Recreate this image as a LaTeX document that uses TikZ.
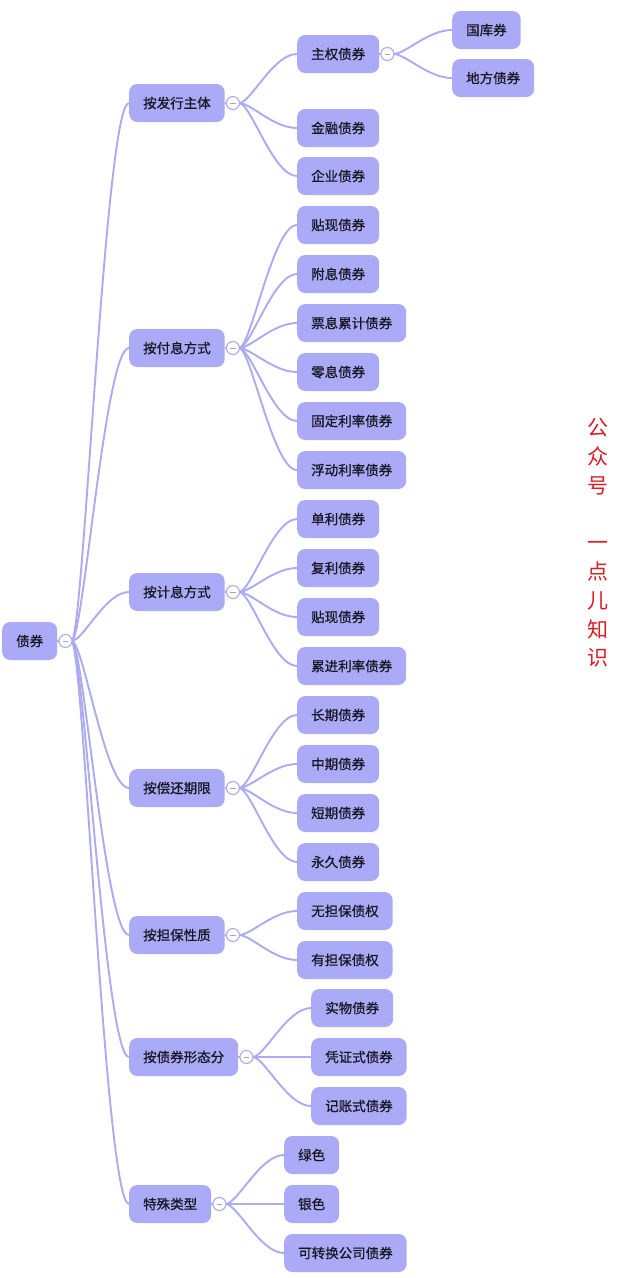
\documentclass[tikz,border=0pt]{standalone}
\usepackage{fontspec}
\setmainfont{Noto Sans CJK SC}
\newfontfamily\cjkfont{Noto Sans CJK SC}
\newfontfamily\boxfont[FakeBold=0.8]{Noto Sans CJK SC}
\usetikzlibrary{positioning}
\definecolor{boxfill}{RGB}{171,170,246}
\definecolor{linec}{RGB}{172,170,240}
\definecolor{txt}{RGB}{24,24,36}
\definecolor{wred}{RGB}{222,28,36}
\pgfdeclarelayer{bg}
\pgfsetlayers{bg,main}
\tikzset{
  box/.style={fill=boxfill, rounded corners=8pt, minimum height=38pt,
    inner xsep=14pt, inner ysep=0pt, font=\fontsize{13.5pt}{14pt}\selectfont\boxfont,
    text=txt, anchor=west},
  tog/.style={circle, draw=linec, line width=1.1pt, fill=white, minimum size=13pt,
    inner sep=0pt, path picture={\draw[gray!70, line width=0.6pt]
      ([xshift=-2.8pt]path picture bounding box.center) -- ([xshift=2.8pt]path picture bounding box.center);}},
  conn/.style={draw=linec, line width=1.9pt},
}
\newcommand\kid[5]{%
  \node[box] (#1) at (#2,#3) {#4};
  \begin{pgfonlayer}{bg}
    \draw[conn] ([xshift=-1pt]#5.east) .. controls +(12,0) and +(-24,0) .. (#1.west);
  \end{pgfonlayer}}
\newcommand\tog[2]{%
  \node[tog, anchor=west, xshift=1pt] (#1) at (#2.east) {};
  \begin{pgfonlayer}{bg}\draw[conn] (#2.east) -- (#1.center);\end{pgfonlayer}}
\begin{document}
\begin{tikzpicture}[x=1pt,y=-1pt]
\begin{pgfonlayer}{bg}
\fill[white] (0,0) rectangle (640,1278);
\end{pgfonlayer}
\useasboundingbox (0,0) rectangle (640,1278);
% root
\node[box] (root) at (2,641) {债券};
\tog{c0}{root}
% level 1
\kid{a}{129}{103}{按发行主体}{c0}
\kid{b}{129}{348}{按付息方式}{c0}
\kid{c}{129}{592}{按计息方式}{c0}
\kid{d}{129}{788}{按偿还期限}{c0}
\kid{e}{129}{935}{按担保性质}{c0}
\kid{f}{129}{1057}{按债券形态分}{c0}
\kid{g}{129}{1204}{特殊类型}{c0}
\tog{ca}{a}
\tog{cb}{b}
\tog{cc}{c}
\tog{cd}{d}
\tog{ce}{e}
\tog{cf}{f}
\tog{cg}{g}
% a
\kid{a1}{297}{54}{主权债券}{ca}
\kid{a2}{297}{128}{金融债券}{ca}
\kid{a3}{297}{176}{企业债券}{ca}
\tog{ca1}{a1}
\kid{a11}{452}{30}{国库券}{ca1}
\kid{a12}{452}{78}{地方债券}{ca1}
% b
\kid{b1}{297}{225}{贴现债券}{cb}
\kid{b2}{297}{274}{附息债券}{cb}
\kid{b3}{297}{323}{票息累计债券}{cb}
\kid{b4}{297}{372}{零息债券}{cb}
\kid{b5}{297}{421}{固定利率债券}{cb}
\kid{b6}{297}{470}{浮动利率债券}{cb}
% c
\kid{c1}{297}{519}{单利债券}{cc}
\kid{c2}{297}{568}{复利债券}{cc}
\kid{c3}{297}{617}{贴现债券}{cc}
\kid{c4}{297}{666}{累进利率债券}{cc}
% d
\kid{d1}{297}{715}{长期债券}{cd}
\kid{d2}{297}{764}{中期债券}{cd}
\kid{d3}{297}{813}{短期债券}{cd}
\kid{d4}{297}{862}{永久债券}{cd}
% e
\kid{e1}{297}{911}{无担保债权}{ce}
\kid{e2}{297}{960}{有担保债权}{ce}
% f
\kid{f1}{311}{1008}{实物债券}{cf}
\kid{f2}{311}{1057}{凭证式债券}{cf}
\kid{f3}{311}{1106}{记账式债券}{cf}
% g
\kid{g1}{284}{1155}{绿色}{cg}
\kid{g2}{284}{1204}{银色}{cg}
\kid{g3}{284}{1253}{可转换公司债券}{cg}
% watermark
\node[text=wred, align=center, font=\fontsize{21pt}{28.75pt}\selectfont\cjkfont] (wm) at (598,543)
  {公\\众\\号\\\mbox{}\\一\\点\\儿\\知\\识};
\end{tikzpicture}
\end{document}
